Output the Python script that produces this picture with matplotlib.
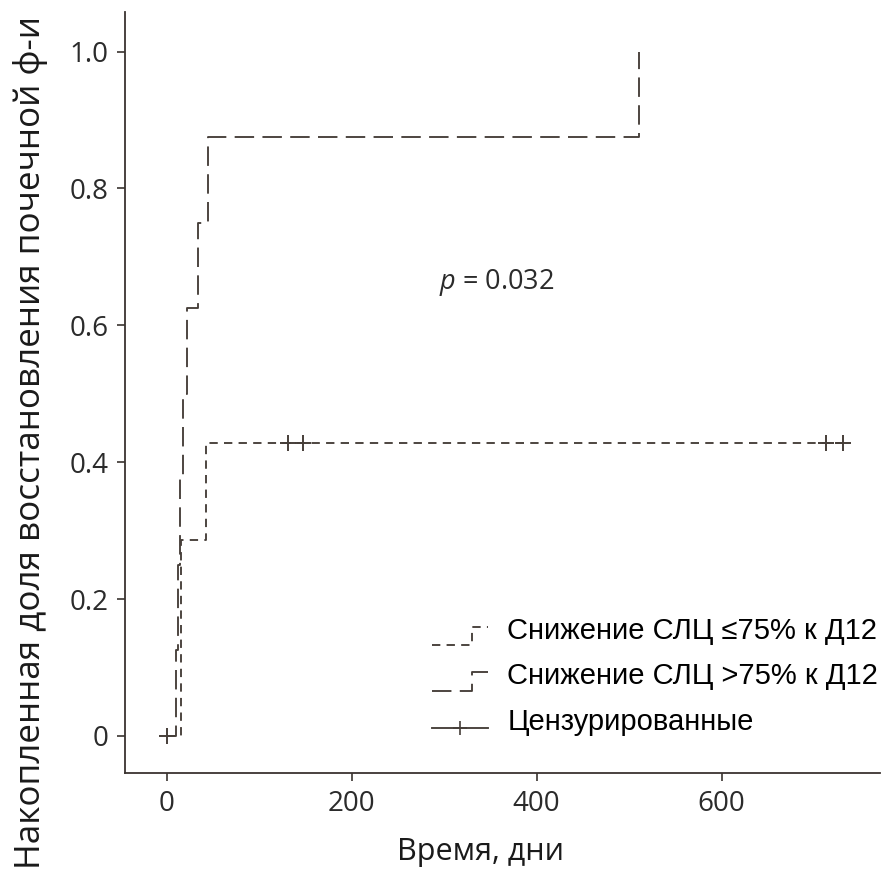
import numpy as np
import matplotlib
matplotlib.use("Agg")
import matplotlib.pyplot as plt
from matplotlib.lines import Line2D
from matplotlib.legend_handler import HandlerBase

# --- datos (Kaplan-Meier acumulado) ---
grupo_alto_t = [0, 10, 12, 15, 18, 22, 34, 45, 511]
grupo_alto_y = [0, 0.125, 0.25, 0.375, 0.5, 0.625, 0.75, 0.875, 1.0]
grupo_alto_cens_t = [1]
grupo_alto_cens_y = [0]

grupo_bajo_t = [0, 16, 43, 731]
grupo_bajo_y = [0, 2 / 7, 3 / 7, 3 / 7]
grupo_bajo_cens_t = [131, 147, 713, 731]
grupo_bajo_cens_y = [3 / 7, 3 / 7, 3 / 7, 3 / 7]

x_ticks = [0, 200, 400, 600]
y_ticks = [0, 0.2, 0.4, 0.6, 0.8, 1.0]
y_ticklabels = ["0", "0.2", "0.4", "0.6", "0.8", "1.0"]

etiquetas = ["Снижение СЛЦ ≤75% к Д12", "Снижение СЛЦ >75% к Д12", "Цензурированные"]
p_texto = r"$p$ = 0.032"

COLOR = "#463e39"
LW = 1.35
DASH_CORTO = (6, 4.5)
DASH_LARGO = (14, 6)

plt.rcParams["lines.scale_dashes"] = False
plt.rcParams["mathtext.fontset"] = "custom"
plt.rcParams["mathtext.rm"] = "Open Sans"
plt.rcParams["mathtext.it"] = "Open Sans:italic"


class Escalon:
    def __init__(self, dashes):
        self.dashes = dashes


class Censo:
    pass


class HandlerEscalon(HandlerBase):
    """Escalon chico en la leyenda, como en la figura original."""

    def create_artists(self, legend, orig_handle, xdescent, ydescent, width, height, fontsize, trans):
        x0 = -xdescent
        yc = -ydescent + height / 2
        y_bajo = yc - 0.8 * height
        y_alto = yc + 0.1 * height
        xv = x0 + 0.72 * width
        ln = Line2D([x0, xv, xv, x0 + width], [y_bajo, y_bajo, y_alto, y_alto],
                    color=COLOR, lw=LW, dashes=orig_handle.dashes)
        ln.set_transform(trans)
        return [ln]


class HandlerCenso(HandlerBase):
    def create_artists(self, legend, orig_handle, xdescent, ydescent, width, height, fontsize, trans):
        y = -ydescent + height / 2 - 0.4 * height
        ln = Line2D([-xdescent, -xdescent + width], [y, y], color=COLOR, lw=LW)
        mk = Line2D([-xdescent + width / 2], [y], color=COLOR, marker="+", ms=10, mew=1.2, ls="none")
        ln.set_transform(trans)
        mk.set_transform(trans)
        return [ln, mk]


fig = plt.figure(figsize=(8.86, 8.85), dpi=100)
ax = fig.add_axes([0.141, 0.1266, 0.852, 0.86])

ax.step(grupo_bajo_t, grupo_bajo_y, where="post", color=COLOR, lw=LW, dashes=DASH_CORTO)
ax.step(grupo_alto_t, grupo_alto_y, where="post", color=COLOR, lw=LW, dashes=DASH_LARGO)
ax.plot(grupo_bajo_cens_t, grupo_bajo_cens_y, ls="none", marker="+", ms=11, mew=1.4, color=COLOR)
ax.plot(grupo_alto_cens_t, grupo_alto_cens_y, ls="none", marker="+", ms=11, mew=1.4, color=COLOR)

ax.text(295, 0.662, p_texto, fontsize=19.5, color="#2b2b2b", ha="left", va="center",
        family="Open Sans")

ax.set_xlim(-45, 771)
ax.set_ylim(-0.054, 1.058)
ax.set_xticks(x_ticks)
ax.set_yticks(y_ticks)
ax.set_yticklabels(y_ticklabels)
for lab in ax.get_xticklabels() + ax.get_yticklabels():
    lab.set_family("Open Sans")
    lab.set_fontsize(20)
    lab.set_color("#2b2b2b")
ax.tick_params(direction="out", length=6, width=1.2, color="#3a3330", pad=6)

for s in ["top", "right"]:
    ax.spines[s].set_visible(False)
for s in ["left", "bottom"]:
    ax.spines[s].set_color("#3a3330")
    ax.spines[s].set_linewidth(1.3)

ax.set_xlabel("Время, дни", family="Open Sans", fontsize=22, color="#1a1a1a")
ax.xaxis.set_label_coords(0.4715, -0.084)
ax.set_ylabel("Накопленная доля восстановления почечной ф-и", family="Open Sans",
              fontsize=25.2, color="#1a1a1a")
ax.yaxis.set_label_coords(-0.102, 0.434)

ax.legend([Escalon(DASH_CORTO), Escalon(DASH_LARGO), Censo()], etiquetas,
          handler_map={Escalon: HandlerEscalon(), Censo: HandlerCenso()},
          loc="upper left", bbox_to_anchor=(0.407, 0.205), frameon=False,
          prop={"family": "Liberation Sans", "size": 21},
          handlelength=1.9, handletextpad=0.68, labelspacing=0.6,
          borderpad=0, borderaxespad=0)

fig.savefig("out.png", dpi=100)
